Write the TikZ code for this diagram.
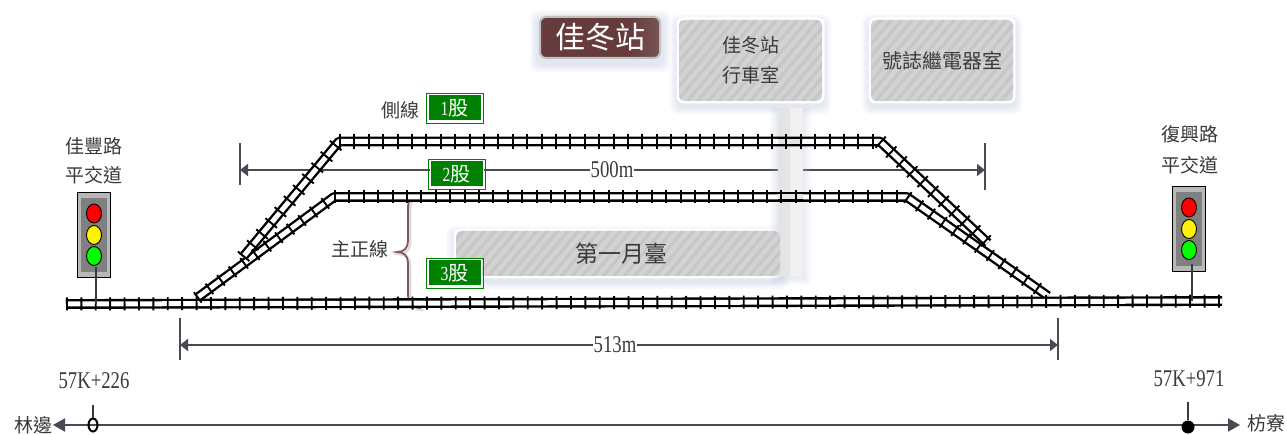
\documentclass[tikz,border=0pt]{standalone}
\usepackage{fontspec}
\setmainfont{Noto Sans CJK TC}
\newfontfamily\nar[FakeStretch=0.78]{Liberation Serif}
\usetikzlibrary{arrows.meta,patterns.meta,shapes.geometric}
\definecolor{inkc}{HTML}{3A3A3A}
\definecolor{dimc}{HTML}{4A4A55}
\definecolor{pillarc}{HTML}{E3E4E6}
\definecolor{hatcha}{HTML}{D2D2D2}
\definecolor{hatchb}{HTML}{C6C6C6}
\definecolor{shadowc}{HTML}{B4C0D8}
\definecolor{bracec}{HTML}{7D5A5A}
\definecolor{titlea}{HTML}{663B3C}
\definecolor{titleb}{HTML}{9A8484}
\pgfdeclarehorizontalshading{titleshade}{100bp}{color(0bp)=(titlea);color(62bp)=(titlea);color(100bp)=(titleb)}
\tikzset{
  x=1pt,y=-1pt,
  rail/.style={draw=black,line width=2.4pt,double=white,double distance=5pt,line join=round},
  railfill/.style={draw=black,line width=2.4pt,double=pillarc,double distance=5pt},
  ties/.style={draw=black,dash pattern=on 1.9pt off 12.5pt},
  lbl/.style={inner sep=0pt,text=inkc,font=\fontsize{19}{19}\selectfont},
  num/.style={inner sep=0pt,text=inkc,font=\fontsize{24}{24}\selectfont\nar},
  tag/.style={minimum width=53pt,minimum height=26pt,inner sep=0pt,fill=green!50!black,draw=white,line width=1pt,text=white,
    font=\fontsize{20}{20}\selectfont,outer sep=0pt},
  tagrim/.style={draw=green!50!black,line width=.8pt},
  hatchbox/.style={rounded corners=5pt,inner sep=0pt,text=inkc,
    preaction={fill=hatcha},pattern={Lines[angle=50,distance=8pt,line width=3pt]},pattern color=hatchb},
  dimline/.style={draw=dimc,line width=1.6pt},
  dimtick/.style={draw=dimc,line width=1.5pt},
  dimarrow/.style={dimline,{Triangle[length=8pt,width=12pt]}-{Triangle[length=8pt,width=12pt]}},
  sighouse/.style={draw=black,fill=black!28,line width=.9pt,inner sep=0pt,minimum width=33pt,minimum height=85pt},
  siginner/.style={fill=black!50,inner sep=0pt,minimum width=26pt,minimum height=74pt},
  lamp/.style={ellipse,draw=black,line width=.9pt,inner sep=0pt,minimum width=15pt,minimum height=19pt},
  stem/.style={draw=inkc,line width=1.4pt},
}
\newcommand{\softbox}[4]{%
  \foreach \r in {9,7,5,3}{\fill[shadowc,opacity=.1,rounded corners=8pt] (#1-\r,#2-\r+4) rectangle (#3+\r,#4+\r+4);}
  \fill[white,rounded corners=7pt] (#1-2.5,#2-2.5) rectangle (#3+2.5,#4+2.5);}
\newcommand{\sgnl}[3]{% name, x, y of top
  \node[sighouse] (#1house) at (#2,#3+42.5) {};
  \node[siginner] at (#2,#3+43) {};
  \node[lamp,fill=red] (#1r) at (#2,#3+21.5) {};
  \node[lamp,fill=yellow] (#1y) at (#2,#3+43) {};
  \node[lamp,fill=green] (#1g) at (#2,#3+64) {};}
\begin{document}
\begin{tikzpicture}
\useasboundingbox (0,0) rectangle (1287,435);
\fill[white] (0,0) rectangle (1287,435);
% dimension 500m
\coordinate (dimAl) at (240,170); \coordinate (dimAr) at (985,170);
\draw[dimtick] (240,143) -- (240,185);
\draw[dimtick] (985,143) -- (985,190);
\draw[dimarrow] (dimAl) -- (dimAr);
% shadows and rooms
\softbox{456}{231}{780}{276}
\softbox{679}{20}{822}{101}
\softbox{871}{20}{1013}{101}
\foreach \r in {8,6,4,2}{\fill[shadowc,opacity=.08] (778-\r,108) rectangle (803+\r,277+\r);}
\fill[pillarc] (778,108) rectangle (803,277);
\fill[black!6] (790,108) rectangle (803,277);
\node[hatchbox,minimum width=324pt,minimum height=45pt,font=\fontsize{23}{23}\selectfont] (plat) at (618,253.5) {\hspace{6pt}第一月臺};
\node[hatchbox,minimum width=143pt,minimum height=81pt,font=\fontsize{19}{30}\selectfont,align=center] (office) at (750.5,60.5) {佳冬站\\行車室};
\node[hatchbox,minimum width=142pt,minimum height=81pt,font=\fontsize{20}{20}\selectfont] (relay) at (942,60.5) {號誌繼電器室};
% title
\foreach \r in {9,7,5,3}{\fill[shadowc,opacity=.1,rounded corners=8pt] (539-\r,16-\r+4) rectangle (661+\r,59+\r+4);}
\node[rounded corners=6pt,draw=black!25,line width=2pt,shading=titleshade,minimum width=120pt,minimum height=41pt,inner sep=0pt,text=white,
  font=\fontsize{30}{30}\selectfont] (title) at (600,37.5) {佳冬站};
% brace
\draw[bracec!45,line width=2.5pt,opacity=.5] (421,197) .. controls (412,197) and (410,202) .. (410,210) -- (410,243) .. controls (410,250) and (406,254) .. (399,254) .. controls (406,254) and (410,258) .. (410,265) -- (410,296) .. controls (410,305) and (414,310) .. (423,310);
\draw[bracec,line width=1.8pt] (420,195) .. controls (411,195) and (408,200) .. (408,208) -- (408,241) .. controls (408,248) and (404,252) .. (397,252) .. controls (404,252) and (408,256) .. (408,263) -- (408,294) .. controls (408,303) and (412,308) .. (421,308);
% tracks
\coordinate (a1) at (197,298); \coordinate (a2) at (334,197); \coordinate (a3) at (907,197); \coordinate (a4) at (1048,296);
\coordinate (b1) at (243,257); \coordinate (b2) at (339,141.5); \coordinate (b3) at (880,141.5); \coordinate (b4) at (988,243);
\coordinate (m1) at (66,304); \coordinate (m2) at (1222,301);
\draw[rail] (a1) -- (a2) -- (a3) -- (a4);
\draw[rail] (b1) -- (b2) -- (b3) -- (b4);
\draw[rail] (m1) -- (m2);
\draw[railfill] (778,141.5) -- (803,141.5);
\draw[railfill] (778,197) -- (803,197);
\draw[ties,line width=13pt] (a1) -- (a2);
\draw[ties,line width=13pt] (a2) -- (a3);
\draw[ties,line width=13pt] (a3) -- (a4);
\draw[ties,line width=15pt] (b1) -- (b2);
\draw[ties,line width=15pt] (b2) -- (b3);
\draw[ties,line width=15pt] (b3) -- (b4);
\draw[ties,line width=13pt] (m1) -- (m2);
% dimension labels, tags
\node[num,fill=white,inner xsep=1pt] (d500) at (612,170) {500m};
\node[tag] (t1) at (454.5,108) {{\nar 1}股};
\node[tag] (t2) at (456.5,174) {{\nar 2}股};
\node[tag] (t3) at (454.5,273) {{\nar 3}股};
\draw[tagrim] (426,93) rectangle (483,123.5);
\draw[tagrim] (428,159) rectangle (485,189);
\draw[tagrim] (426,258) rectangle (483,288);
\node[lbl] (side) at (400,110) {側線};
\node[lbl] (mainl) at (360,249) {主正線};
% dim 513
\coordinate (dimBl) at (180,345); \coordinate (dimBr) at (1058,345);
\draw[dimtick] (180,318) -- (180,360);
\draw[dimtick] (1058,318) -- (1058,360);
\draw[dimarrow] (dimBl) -- (dimBr);
\node[num,fill=white,inner xsep=1pt] (d513) at (615,345) {513m};
% signals
\sgnl{L}{94}{192}
\sgnl{R}{1189}{186}
\coordinate (Ls) at (96,304); \coordinate (Rs) at (1192,301);
\draw[stem] (96,267) -- (Ls);
\draw[stem] (1192,264) -- (Rs);
\node[lbl,align=center,font=\fontsize{19}{29}\selectfont] (Lt) at (94,161) {佳豐路\\平交道};
\node[lbl,align=center,font=\fontsize{19}{31}\selectfont] (Rt) at (1190,150) {復興路\\平交道};
% mileage line
\node[lbl] (lin) at (33,425) {林邊};
\node[lbl] (fang) at (1266,423) {枋寮};
\coordinate (ml) at (53,425); \coordinate (mr) at (1240,425);
\draw[dimc,line width=2pt,{Triangle[length=12pt,width=13pt]}-{Triangle[length=12pt,width=13pt]}] (ml) -- (mr);
\node[ellipse,draw=black,line width=2pt,minimum width=9pt,minimum height=13pt,inner sep=0pt] (kL) at (93,425) {};
\draw[inkc,line width=2.6pt] (93,405) -- (kL.north);
\node[circle,fill=black,minimum size=13pt,inner sep=0pt] (kR) at (1188,427) {};
\draw[inkc,line width=2.6pt] (1188,402) -- (kR.north);
\node[num] (k1) at (94,381) {57K+226};
\node[num] (k2) at (1189,379) {57K+971};
\end{tikzpicture}
\end{document}
